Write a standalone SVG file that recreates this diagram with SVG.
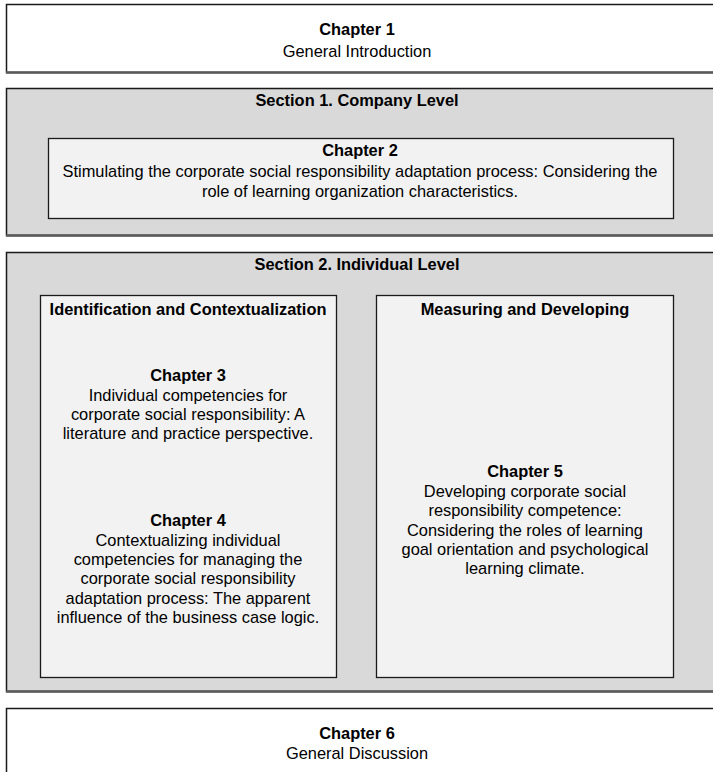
<svg xmlns="http://www.w3.org/2000/svg" width="713" height="772" viewBox="0 0 713 772">
<style>
text{font-family:"Liberation Sans",Arial,sans-serif;font-size:16.4px;fill:#000;text-anchor:middle}
.b{font-weight:bold}
.outer{stroke:#1a1a1a;stroke-width:1.5}
.white{fill:#ffffff}
.sec{fill:#d9d9d9}
.inner{fill:#f2f2f2;stroke:#1a1a1a;stroke-width:1.3}
.sh{stroke:#5a5a5a;stroke-width:2.5;fill:none}
</style>
<rect width="713" height="772" fill="#ffffff"/>
<g id="chapter1">
<rect class="outer white" x="6.5" y="4.5" width="720" height="68"/>
<line class="sh" x1="6" y1="72.5" x2="713" y2="72.5"/>
<text class="b" x="357" y="35">Chapter 1</text>
<text x="357" y="57">General Introduction</text>
</g>
<g id="section1">
<rect class="outer sec" x="6.5" y="88.5" width="720" height="147"/>
<line class="sh" x1="6" y1="235.5" x2="713" y2="235.5"/>
<text class="b" x="357" y="106">Section 1. Company Level</text>
</g>
<g id="chapter2">
<rect class="inner" x="48.5" y="138.5" width="625" height="80"/>
<text class="b" x="360" y="156">Chapter 2</text>
<text x="360" y="177">Stimulating the corporate social responsibility adaptation process: Considering the</text>
<text x="360" y="197">role of learning organization characteristics.</text>
</g>
<g id="section2">
<rect class="outer sec" x="6.5" y="252.5" width="720" height="439"/>
<line class="sh" x1="6" y1="691.5" x2="713" y2="691.5"/>
<text class="b" x="357" y="270">Section 2. Individual Level</text>
</g>
<g id="identification">
<rect class="inner" x="40.5" y="295.5" width="296" height="382"/>
<text class="b" x="188" y="315">Identification and Contextualization</text>
<text class="b" x="188" y="381">Chapter 3</text>
<text x="188" y="401">Individual competencies for</text>
<text x="188" y="420">corporate social responsibility: A</text>
<text x="188" y="439">literature and practice perspective.</text>
<text class="b" x="188" y="526">Chapter 4</text>
<text x="188" y="546">Contextualizing individual</text>
<text x="188" y="565">competencies for managing the</text>
<text x="188" y="584">corporate social responsibility</text>
<text x="188" y="604">adaptation process: The apparent</text>
<text x="188" y="623">influence of the business case logic.</text>
</g>
<g id="measuring">
<rect class="inner" x="376.5" y="295.5" width="297" height="382"/>
<text class="b" x="525" y="315">Measuring and Developing</text>
<text class="b" x="525" y="477">Chapter 5</text>
<text x="525" y="497">Developing corporate social</text>
<text x="525" y="516">responsibility competence:</text>
<text x="525" y="536">Considering the roles of learning</text>
<text x="525" y="555">goal orientation and psychological</text>
<text x="525" y="574">learning climate.</text>
</g>
<g id="chapter6">
<rect class="outer white" x="6.5" y="708.5" width="720" height="80"/>
<text class="b" x="357" y="739">Chapter 6</text>
<text x="357" y="759">General Discussion</text>
</g>
<g id="connectors"></g>
</svg>
